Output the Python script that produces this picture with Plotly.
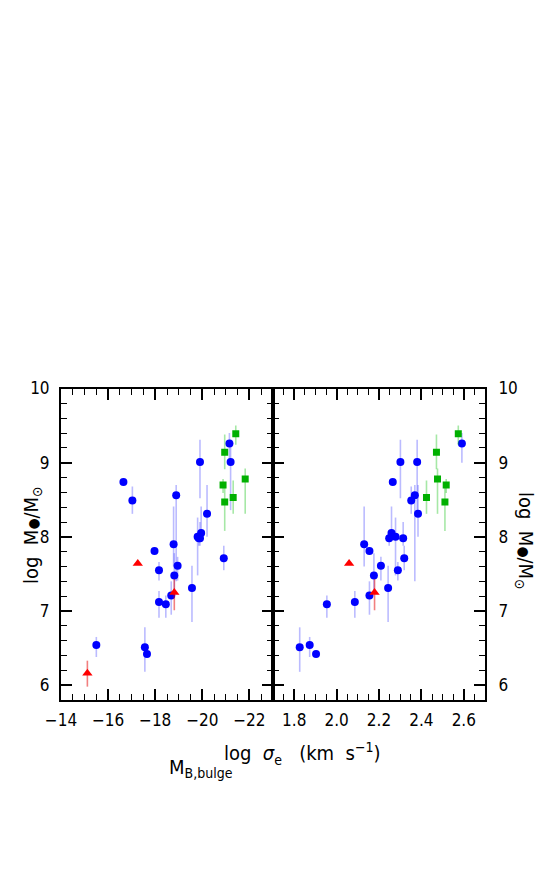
import plotly.graph_objects as go
from plotly.subplots import make_subplots

# --- data ---
# blue circles
blue_mb = [-16.65, -17.03, -18.89, -19.90, -20.20, -21.15, -21.20, -19.85, -19.95, -19.80, -19.90,
           -18.78, -17.97, -18.16, -18.95, -18.81, -18.68, -18.16, -18.45, -19.56, -20.91,
           -15.50, -17.56, -17.65]
blue_sig = [2.265, 2.352, 2.369, 2.301, 2.384, 2.591, 2.380, 2.248, 2.259, 2.278, 2.314,
            2.130, 2.155, 2.289, 2.209, 2.176, 2.155, 2.086, 1.954, 2.243, 2.319,
            1.873, 1.826, 1.903]
blue_logm = [8.74, 8.49, 8.56, 9.01, 8.31, 9.26, 9.01, 7.98, 8.05, 8.00, 7.98,
             7.90, 7.81, 7.55, 7.61, 7.48, 7.21, 7.12, 7.09, 7.31, 7.71,
             6.54, 6.51, 6.42]
blue_up = [0.0, 0.19, 0.14, 0.30, 0.39, 0.14, 0.30, 0.05, 0.36, 0.26, 0.22,
           0.51, 0.0, 0.11, 0.12, 0.30, 0.19, 0.15, 0.12, 0.30, 0.17,
           0.11, 0.27, 0.0]
blue_dn = [0.0, 0.18, 1.16, 0.49, 0.31, 0.26, 0.65, 0.10, 0.10, 0.52, 0.10,
           0.30, 0.0, 0.14, 0.20, 0.20, 0.26, 0.21, 0.18, 0.46, 0.16,
           0.16, 0.33, 0.0]

# green squares
green_mb = [-21.42, -20.95, -20.88, -21.82, -21.31, -20.95]
green_sig = [2.574, 2.471, 2.517, 2.476, 2.424, 2.511]
green_logm = [9.39, 9.14, 8.70, 8.78, 8.53, 8.47]
green_up = [0.11, 0.24, 0.08, 0.14, 0.23, 0.23]
green_dn = [0.15, 0.23, 0.11, 0.47, 0.22, 0.39]

# red triangles (one has no sigma)
red_mb = [-17.26, -18.81, -15.12]
red_sig = [2.059, 2.179, None]
red_logm = [7.64, 7.25, 6.16]
red_up = [0.0, 0.18, 0.17]
red_dn = [0.0, 0.24, 0.18]

W, H = 559, 879
FONT = "DejaVu Sans Condensed, Liberation Sans Narrow, Liberation Sans, sans-serif"

fig = make_subplots(rows=1, cols=2, horizontal_spacing=0)

groups = [
    (blue_mb, blue_sig, blue_logm, blue_up, blue_dn,
     dict(symbol="circle", size=8, color="#0000ff"), "rgba(60,60,255,0.35)"),
    (green_mb, green_sig, green_logm, green_up, green_dn,
     dict(symbol="square", size=7, color="#00b000"), "rgba(0,190,0,0.35)"),
    (red_mb, red_sig, red_logm, red_up, red_dn,
     dict(symbol="triangle-up", size=9, color="#ff0000"), "rgba(230,0,0,0.5)"),
]

for mb, sig, logm, up, dn, mk, ecol in groups:
    for col, xs in ((1, mb), (2, sig)):
        pts = [(x, y, u, d) for x, y, u, d in zip(xs, logm, up, dn) if x is not None]
        fig.add_trace(go.Scatter(
            x=[p[0] for p in pts], y=[p[1] for p in pts], mode="markers",
            marker=dict(line=dict(width=0), **mk),
            error_y=dict(type="data", symmetric=False,
                         array=[p[2] for p in pts], arrayminus=[p[3] for p in pts],
                         color=ecol, thickness=1.6, width=0),
            showlegend=False), row=1, col=col)

axis_common = dict(showline=True, linecolor="black", linewidth=2, mirror="allticks",
                   ticks="inside", ticklen=11, tickwidth=1.5, tickcolor="black",
                   showgrid=False, zeroline=False, automargin=False,
                   tickfont=dict(family=FONT, size=17, color="black"))

x0, xm, x1 = 61 / W, 273 / W, 485 / W
y0, y1 = (H - 700) / H, (H - 388.5) / H

fig.update_xaxes(range=[-14, -23], tickvals=[-14, -16, -18, -20, -22], domain=[x0, xm],
                 minor=dict(ticks="inside", ticklen=6, dtick=0.5, tickcolor="black", tickwidth=1.2),
                 ticklabelstandoff=4, **axis_common, row=1, col=1)
fig.update_xaxes(range=[1.7, 2.7], tickvals=[1.8, 2.0, 2.2, 2.4, 2.6], tickformat=".1f",
                 domain=[xm, x1],
                 minor=dict(ticks="inside", ticklen=6, dtick=0.05, tick0=1.7, tickcolor="black", tickwidth=1.2),
                 ticklabelstandoff=4, **axis_common, row=1, col=2)
yminor = dict(ticks="inside", ticklen=6, dtick=0.2, tick0=6, tickcolor="black", tickwidth=1.2)
fig.update_yaxes(range=[5.8, 10], tickvals=[6, 7, 8, 9, 10], domain=[y0, y1], minor=yminor,
                 ticklabelstandoff=6, **axis_common, row=1, col=1)
fig.update_yaxes(range=[5.8, 10], tickvals=[6, 7, 8, 9, 10], domain=[y0, y1], minor=yminor,
                 side="right", ticklabelstandoff=8, **axis_common, row=1, col=2)

title_font = dict(family=FONT, size=20, color="black")
ytitle = "log  M<span style='font-size:14px'>●</span>/M<sub>⊙</sub>"
fig.add_annotation(x=17 / W, y=(H - 535) / H, xref="paper", yref="paper", textangle=-90,
                   text=ytitle, showarrow=False, font=title_font)
fig.add_annotation(x=540 / W, y=(H - 541) / H, xref="paper", yref="paper", textangle=90,
                   text=ytitle, showarrow=False, font=title_font)
fig.add_annotation(x=167 / W, y=(H - 783) / H, xref="paper", yref="paper",
                   text="M<sub>B,bulge</sub>", showarrow=False, font=title_font)
fig.add_annotation(x=383 / W, y=(H - 770) / H, xref="paper", yref="paper",
                   text="log  <i>σ</i><sub>e</sub>   (km  s<sup>−1</sup>)", showarrow=False,
                   font=title_font)

fig.update_layout(width=W, height=H, margin=dict(l=0, r=0, t=0, b=0),
                  paper_bgcolor="white", plot_bgcolor="white")

# page body has a default margin; drop it so the figure sits at the window origin
fig.write_html("out.html", config={"displayModeBar": False},
               post_script="document.body.style.margin='0px';")
